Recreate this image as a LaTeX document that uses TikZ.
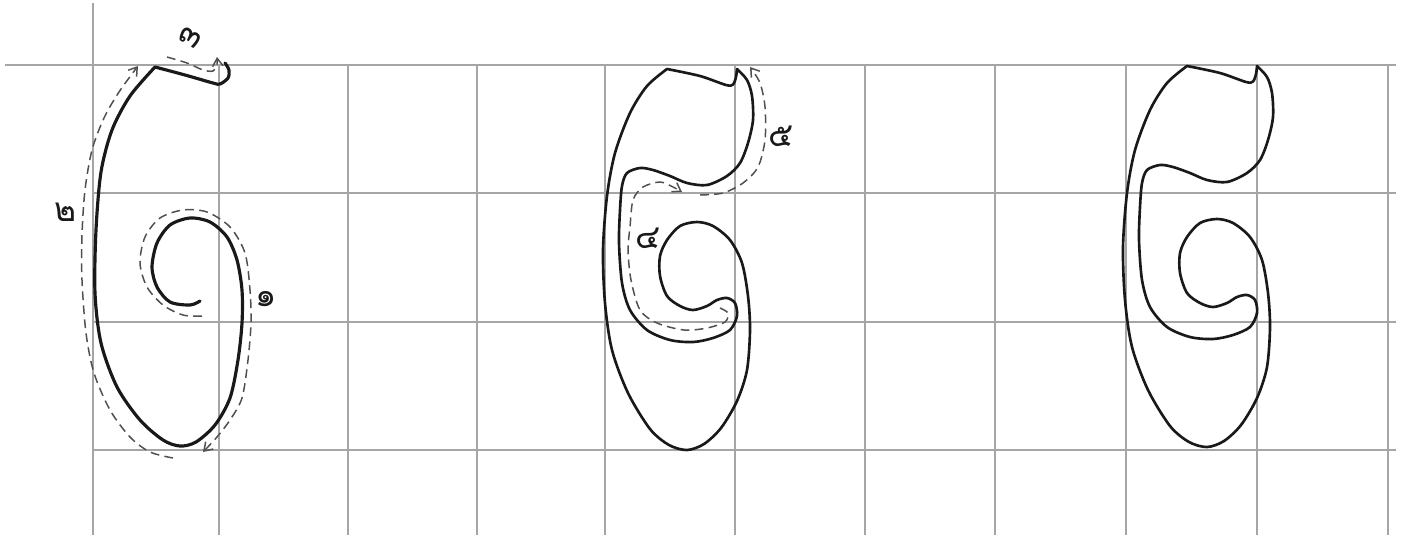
\documentclass[tikz,border=0pt]{standalone}
\usepackage{fontspec}
\newfontfamily\thaifont[Script=Thai]{Loma}
\usetikzlibrary{arrows.meta}
\definecolor{gridgray}{RGB}{165,165,165}
\definecolor{guidegray}{RGB}{80,80,80}
\definecolor{ink}{RGB}{25,25,25}

\begin{document}
\begin{tikzpicture}[x=0.02cm, y=-0.02cm,
  gridline/.style={gridgray, line width=0.8pt},
  stroke/.style={ink, line width=1.8pt, line cap=round, line join=round},
  outline/.style={ink, line width=1.5pt, line join=round},
  guide/.style={guidegray, line width=0.85pt, dash pattern=on 5pt off 3pt,
    -{Straight Barb[length=4.5pt, width=6pt]}},
  digit/.style={font=\thaifont\fontsize{19}{19}\selectfont, text=ink, inner sep=0pt}]
  \useasboundingbox (0,0) rectangle (1405,535);

  % Grid
  \draw[gridline] (5,65) -- (1396,65);
  \foreach \y in {193,322,450}
    \draw[gridline] (93,\y) -- (1396,\y);
  \draw[gridline] (93,3) -- (93,535);
  \foreach \x in {219,348,477,605,735,865,995,1126,1257,1388}
    \draw[gridline] (\x,65) -- (\x,535);

  % First letter: one stroke, from the inner curl out and up to the hook
  \draw[stroke] plot[smooth] coordinates {(200,301) (190,305) (170,302) (157,287)
      (152,267) (157,243) (170,225) (190,218) (210,222) (227,237) (237,260)
      (242,290) (242,323) (238,360) (230,398) (215,425) (196,442) (180,446)
      (163,440) (140,420) (117,387) (101,343) (95,293) (96,230) (101,172)
      (112,130) (130,96) (155,67)}
    -- plot[smooth] coordinates {(155,67) (185,75) (213,83) (220,84) (228,78)
      (229,70) (225,63)};

  % Stroke order guides of the first letter
  \draw[guide] plot[smooth] coordinates {(202,316) (183,315) (163,305) (147,287)
      (140,263) (145,237) (160,218) (183,210) (207,212) (230,227) (245,253)
      (250,290) (251,323) (248,360) (242,398) (230,420) (217,437) (203,452)};
  \draw[guide] plot[smooth] coordinates {(173,458) (150,452) (130,437) (110,410)
      (94,373) (86,333) (82,280) (82,235) (85,190) (92,150) (104,118)
      (119,92) (138,66)};
  \draw[guide] plot[smooth] coordinates {(167,57) (187,63) (203,70) (213,71)
      (217,65) (217,57)};
  \node[digit, rotate=-30] (d3) at (190,38) {๓};
  \node[digit] (d2) at (66,212) {๒};
  \node[digit] (d1) at (266,299) {๑};

  % Outline of the finished letter (middle and right)
  \foreach \dx/\dy in {-520/3, 0/0}
    \draw[outline, shift={(\dx,\dy)}]
      plot[smooth] coordinates {(1187,66) (1220,73) (1246,82) (1253,81.5)
        (1256,74) (1257,66)}
      -- plot[smooth] coordinates {(1257,66) (1267,77) (1272,93) (1273,117)
        (1268,140) (1260,160) (1247,173) (1227,182) (1207,180) (1190,173)
        (1173,167) (1160,165) (1147,170) (1142,183) (1140,207) (1139,240)
        (1142,280) (1150,307) (1167,327) (1190,337) (1213,339) (1233,335)
        (1250,327) (1257,313) (1255,300) (1247,295) (1237,297) (1227,303)
        (1213,307) (1200,303) (1187,293) (1180,273) (1180,253) (1187,237)
        (1200,223) (1217,219) (1233,223) (1250,237) (1262,260) (1268,293)
        (1270,327) (1267,367) (1257,398) (1241,425) (1224,441) (1207,447)
        (1189,442) (1170,426) (1148,390) (1132,347) (1125,300) (1123,247)
        (1127,193) (1135,150) (1150,110) (1167,83) (1187,66)}
      -- cycle;

  % Stroke order guides of the middle letter
  \draw[guide] plot[smooth] coordinates {(720,308) (728,313) (725,322) (707,328)
      (684,330) (657,323) (640,310) (631,280) (628,250) (630,227) (633,200)
      (643,187) (660,182) (673,187) (682,192)};
  \draw[guide] plot[smooth] coordinates {(700,195) (723,193) (743,183) (758,167)
      (765,140) (765,107) (760,83) (750,67)};
  \node[digit] (d4) at (648,238) {๔};
  \node[digit] (d5) at (781,136) {๕};
\end{tikzpicture}
\end{document}
